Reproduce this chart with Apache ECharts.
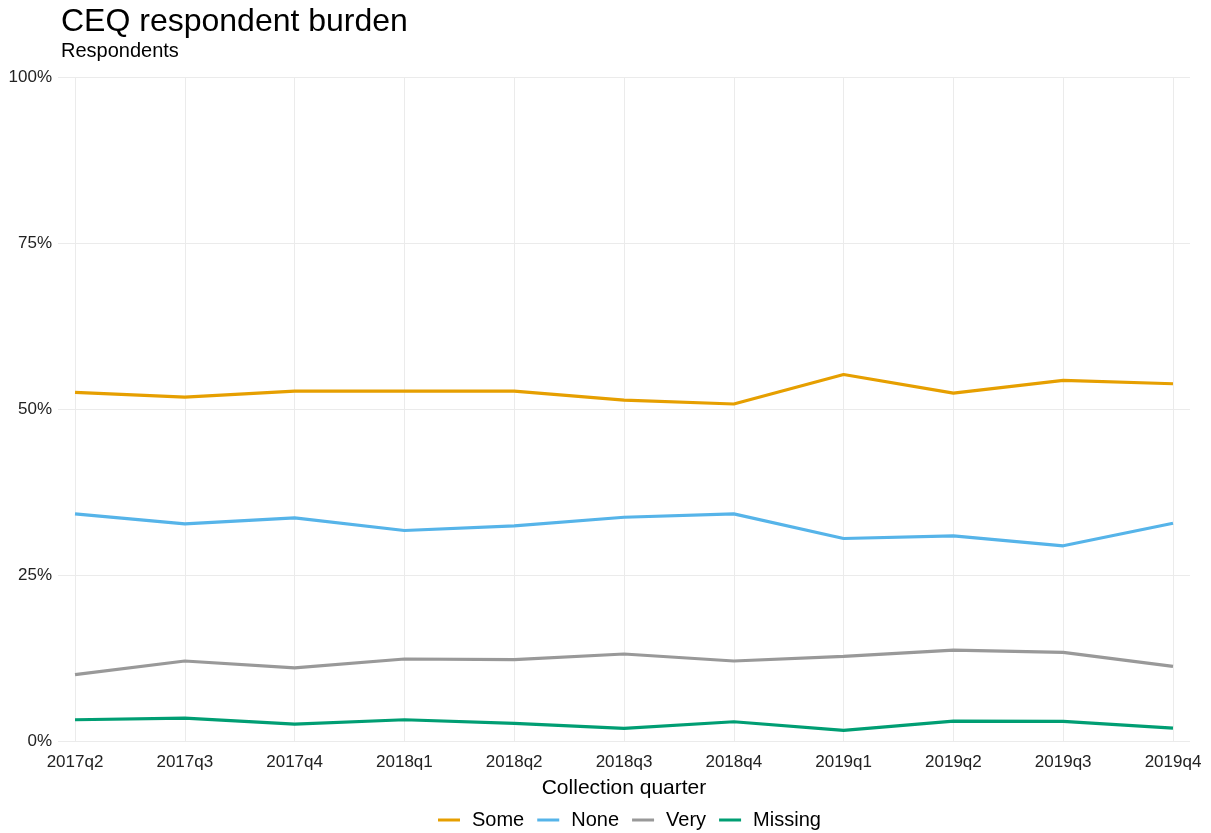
<!DOCTYPE html>
<html>
<head>
<meta charset="utf-8">
<script src="https://cdn.jsdelivr.net/npm/echarts@6/dist/echarts.min.js"></script>
<style>
html,body{margin:0;padding:0;background:#fff;}
#chart{width:1211px;height:833px;}
</style>
</head>
<body>
<div id="chart"></div>
<script>
const quarters = ['2017q2','2017q3','2017q4','2018q1','2018q2','2018q3','2018q4','2019q1','2019q2','2019q3','2019q4'];
const some    = [52.5, 51.8, 52.7, 52.7, 52.7, 51.35, 50.75, 55.2, 52.4, 54.3, 53.8];
const none    = [34.2, 32.7, 33.6, 31.7, 32.4, 33.7, 34.2, 30.5, 30.9, 29.4, 32.8];
const very    = [10.0, 12.05, 11.0, 12.35, 12.25, 13.1, 12.05, 12.75, 13.7, 13.35, 11.25];
const missing = [3.2, 3.45, 2.55, 3.2, 2.65, 1.9, 2.9, 1.6, 3.0, 2.95, 1.95];
const yTicks = [0, 25, 50, 75, 100];

const seriesNames = ['Some','None','Very','Missing'];
const seriesData = [some, none, very, missing];
const colors = ['#E69F00','#56B4E9','#999999','#009E73'];
const FONT = '"Liberation Sans", Arial, sans-serif';

const chart = echarts.init(document.getElementById('chart'), null, {renderer:'canvas'});
const option = {
  animation: false,
  backgroundColor: '#fff',
  title: [
    {text: 'CEQ respondent burden', left: 56, top: 1,
     textStyle: {fontFamily: FONT, fontSize: 32, fontWeight: 'normal', color: '#000'}},
    {text: 'Respondents', left: 56, top: 36,
     textStyle: {fontFamily: FONT, fontSize: 20, fontWeight: 'normal', color: '#000'}}
  ],
  legend: {
    data: seriesNames.map((n,i)=>({name:n, itemStyle:{color:colors[i]}})),
    left: 433, top: 805,
    icon: 'rect', itemWidth: 22, itemHeight: 3, itemGap: 13,
    textStyle: {fontFamily: FONT, fontSize: 20, color: '#000', padding:[0,0,0,7]}
  },
  grid: [
    {left: 58, right: 21, top: 77, bottom: 92, containLabel: false},
    {left: 75, right: 38, top: 77, bottom: 92, containLabel: false}
  ],
  xAxis: [
    {gridIndex: 0, type: 'value', min: 0, max: 1, show: false},
    {gridIndex: 1, type: 'category', data: quarters, boundaryGap: false,
     axisLine: {show: false}, axisTick: {show: false},
     axisLabel: {fontFamily: FONT, fontSize: 17, color: '#222', margin: 13},
     splitLine: {show: true, lineStyle: {color: '#EBEBEB', width: 1}},
     name: 'Collection quarter', nameLocation: 'middle', nameGap: 37,
     nameTextStyle: {fontFamily: FONT, fontSize: 21, color: '#000'}}
  ],
  yAxis: [
    {gridIndex: 0, type: 'value', min: 0, max: 100, interval: 25,
     axisLine: {show: false}, axisTick: {show: false},
     axisLabel: {fontFamily: FONT, fontSize: 17, color: '#222', margin: 6,
       formatter: v => yTicks.includes(v) ? v + '%' : ''},
     splitLine: {show: true, lineStyle: {color: '#EBEBEB', width: 1}}},
    {gridIndex: 1, type: 'value', min: 0, max: 100, interval: 25, show: false,
     splitLine: {show: false}}
  ],
  series: seriesData.map((d,i)=>({
    name: seriesNames[i], type: 'line', xAxisIndex: 1, yAxisIndex: 1,
    data: d, showSymbol: false, symbol: 'none',
    lineStyle: {color: colors[i], width: 3.2},
    itemStyle: {color: colors[i]}
  }))
};
chart.setOption(option);
</script>
</body>
</html>
